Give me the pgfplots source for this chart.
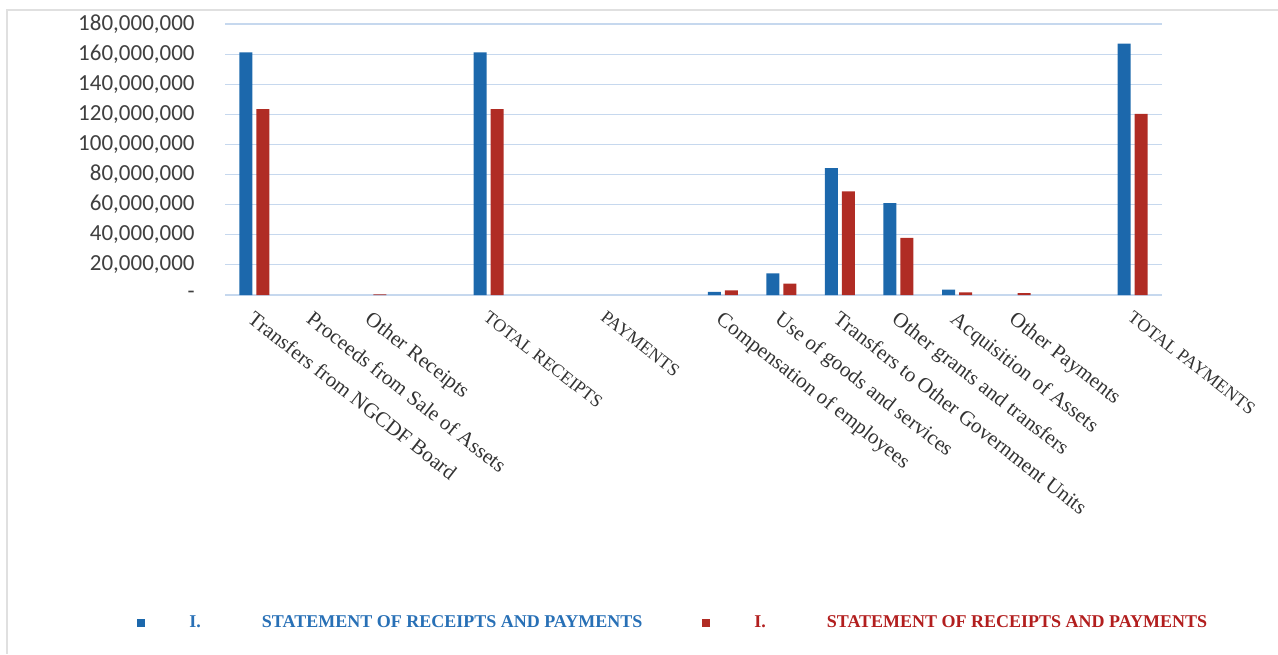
\documentclass[border=0pt]{standalone}
\usepackage{fontspec}
\setmainfont{Liberation Serif}
\newfontfamily\calibri{Carlito}
\usepackage{pgfplots}
\pgfplotsset{compat=1.18}
\definecolor{barblue}{RGB}{28,104,172}
\definecolor{barred}{RGB}{176,44,36}
\definecolor{gridblue}{RGB}{198,216,238}
\definecolor{legblue}{RGB}{40,112,182}
\definecolor{legred}{RGB}{178,30,30}
\newcommand{\cp}[1]{{\fontsize{9}{10}\selectfont #1}}
\begin{document}
\begin{tikzpicture}[x=1pt,y=1pt]
\path[use as bounding box] (0,0) rectangle (639,327);
\draw[color=black!12, line width=0.6pt] (3.5,0) -- (3.5,322) -- (639,322);
\begin{axis}[
  at={(112.5pt,179.5pt)}, anchor=south west,
  scale only axis, width=468.5pt, height=135.5pt,
  xmin=-0.5, xmax=15.5, ymin=0, ymax=180000000,
  enlargelimits=false, scaled y ticks=false,
  ybar=2pt, bar width=6.5pt,
  axis line style={draw=none},
  tick style={draw=none},
  ymajorgrids, major grid style={color=gridblue, line width=0.6pt},
  xtick={0,1,2,3,4,5,6,7,8,9,10,11,12,13,14,15},
  xticklabels={Transfers from NGCDF Board, Proceeds from Sale of Assets, Other Receipts, {}, \cp{TOTAL RECEIPTS}, {}, \cp{PAYMENTS}, {}, Compensation of employees, Use of goods and services, Transfers to Other Government Units, Other grants and transfers, Acquisition of Assets, Other Payments, {}, \cp{TOTAL PAYMENTS}},
  xticklabel style={rotate=-38, anchor=north west, inner sep=0pt, xshift=2.5pt, yshift=-2pt, font=\fontsize{10.5}{11}\selectfont, text=black!80},
  ytick={0,20000000,40000000,60000000,80000000,100000000,120000000,140000000,160000000,180000000},
  yticklabels={-,{20,000,000},{40,000,000},{60,000,000},{80,000,000},{100,000,000},{120,000,000},{140,000,000},{160,000,000},{180,000,000}},
  yticklabel style={font=\calibri\fontsize{11.5}{12}\selectfont, inner sep=0pt, xshift=-15pt, text=black!75},
  legend columns=2,
  legend style={at={(axis description cs:-0.1003,-1.21)}, anchor=west, draw=none, fill=none,
    font=\bfseries\fontsize{9}{10}\selectfont,
    /tikz/every even column/.append style={column sep=28pt}},
  legend cell align=left,
]
\addplot[fill=barblue, draw=none,
  legend image code/.code={\fill[barblue] (0pt,-2pt) rectangle (4pt,2pt); \path[draw=none,fill=none] (0pt,0pt) -- (24pt,0pt);}]
  coordinates {
  (0,161100000) (4,161100000)
  (8,2000000) (9,14400000) (10,84300000) (11,61100000) (12,3500000) (15,166900000)};
\addlegendentry{\textcolor{legblue}{I.\hspace{30.5pt}STATEMENT OF RECEIPTS AND PAYMENTS}}
\addplot[fill=barred, draw=none,
  legend image code/.code={\fill[barred] (0pt,-2pt) rectangle (4pt,2pt); \path[draw=none,fill=none] (0pt,0pt) -- (24pt,0pt);}]
  coordinates {
  (0,123500000) (2,500000) (4,123500000)
  (8,3100000) (9,7500000) (10,68900000) (11,38000000) (12,1700000) (13,1200000) (15,120300000)};
\addlegendentry{\textcolor{legred}{I.\hspace{30.5pt}STATEMENT OF RECEIPTS AND PAYMENTS}}
\end{axis}
\end{tikzpicture}
\end{document}
